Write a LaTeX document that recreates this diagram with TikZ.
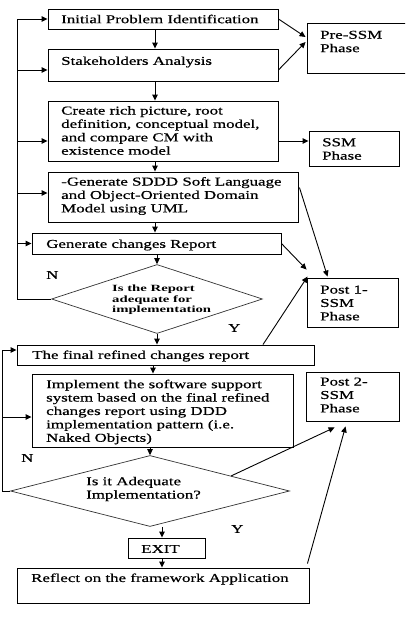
\documentclass[tikz,border=0pt]{standalone}
\usepackage{fontspec}
\setmainfont{Liberation Serif}[FakeStretch=1.41,FakeBold=0.6]
\newfontfamily\dfont{Liberation Serif}[FakeStretch=1.55]
\usetikzlibrary{shapes.geometric,arrows.meta,calc}
\begin{document}
\begin{tikzpicture}[x=1pt,y=-1pt,
  box/.style={draw, line width=0.9pt, rectangle, inner sep=0pt},
  dia/.style={draw=black!80, diamond, inner sep=0pt, line width=0.7pt, aspect=3},
  txt/.style={anchor=west, align=left, inner sep=0pt, font=\fontsize{12}{13.4}\selectfont},
  dtxt/.style={anchor=west, align=left, inner sep=0pt, font=\dfont\bfseries\fontsize{9.5}{10.5}\selectfont},
  arr/.style={line width=0.9pt, -{Triangle[length=6pt,width=5.5pt]}}]
\clip (0,0) rectangle (405,621);
\fill[white] (0,0) rectangle (405,621);
% boxes
\node[box, minimum width=230pt, minimum height=20pt] (b1) at (163,19) {};
\node[box, minimum width=230pt, minimum height=32pt] (b2) at (163,65) {};
\node[box, minimum width=230pt, minimum height=60pt] (b3) at (163,131) {};
\node[box, minimum width=250pt, minimum height=50pt] (b4) at (173,197) {};
\node[box, minimum width=249pt, minimum height=21pt] (b5) at (156.5,243.5) {};
\node[dia, minimum width=211pt, minimum height=69pt] (d1) at (157,299) {};
\node[box, minimum width=297pt, minimum height=20pt] (b6) at (165.5,355) {};
\node[box, minimum width=261pt, minimum height=73pt] (b7) at (162.5,410.5) {};
\node[dia, minimum width=279pt, minimum height=71pt] (d2) at (150,491) {};
\node[box, minimum width=77pt, minimum height=20pt] (ex) at (166.5,548) {};
\node[box, minimum width=292pt, minimum height=35pt] (rf) at (163,585.5) {};
\node[box, minimum width=103pt, minimum height=50pt] (pre) at (358.5,48) {};
\node[box, minimum width=90pt, minimum height=35pt] (ssm) at (354,148.5) {};
\node[box, minimum width=91pt, minimum height=49pt] (p1) at (352.5,302.5) {};
\node[box, minimum width=93pt, minimum height=49pt] (p2) at (352.5,396.5) {};
% texts
\node[txt] (t1) at (61,19) {Initial Problem Identification};
\node[txt] (t2) at (61,62) {Stakeholders Analysis};
\node[txt] (t3) at (61,130.5) {Create rich picture, root\\definition, conceptual model,\\and compare CM with\\existence model};
\node[txt] (t4) at (61,196) {-Generate SDDD Soft Language\\and Object-Oriented Domain\\Model using UML};
\node[txt] (t5) at (46,245) {Generate changes Report};
\node[dtxt] (td1) at (112,300) {Is the Report\\adequate for\\implementation};
\node[txt] (t6) at (32,356) {The final refined changes report};
\node[txt] (t7) at (46,412) {Implement the software support\\system based on the final refined\\changes report using DDD\\implementation pattern (i.e.\\Naked Objects)};
\node[txt] (td2) at (86,489) {Is it Adequate\\Implementation?};
\node[txt, anchor=center] (tex) at (160.5,549) {EXIT};
\node[txt] (trf) at (31,579) {Reflect on the framework Application};
\node[txt] (tpre) at (320,41.5) {Pre-SSM\\Phase};
\node[txt] (tssm) at (322,149) {SSM\\Phase};
\node[txt] (tp1) at (320,303) {Post 1-\\SSM\\Phase};
\node[txt] (tp2) at (320,395) {Post 2-\\SSM\\Phase};
\node[txt] (n1) at (46,275) {N};
\node[txt] (n2) at (21,458) {N};
\node[txt] (y1) at (228,328) {Y};
\node[txt] (y2) at (231,529) {Y};
% vertical flow
\coordinate (cA) at (155,0);
\coordinate (cB) at (153,0);
\coordinate (cC) at (162,0);
\coordinate (cD) at (263,0);
\draw[arr] (b1.south -| cA) -- (b2.north -| cA);
\draw[arr] (b2.south -| cA) -- (b3.north -| cA);
\draw[arr] (b3.south -| cA) -- (b4.north -| cA);
\draw[arr] (b4.south -| cA) -- (b5.north -| cA);
\draw[arr] (b5.south -| d1.north) -- (d1.north);
\draw[arr] (d1.south) -- (b6.north -| d1.south);
\draw[arr] (b6.south -| cB) -- (b7.north -| cB);
\draw[arr] (b7.south -| d2.north) -- (d2.north);
\draw[arr] (d2.south -| cC) -- (ex.north -| cC);
\draw[arr] (ex.south -| cC) -- (rf.north -| cC);
% loop 1
\coordinate (L1) at (17,0);
\draw[arr] (d1.west) -- (d1.west -| L1) |- (b1.west);
\coordinate (e2) at ($(b2.west)+(0,5)$);
\coordinate (e3) at ($(b3.west)+(0,10)$);
\coordinate (e4) at ($(b4.west)+(0,-4)$);
\draw[arr] (e2 -| L1) -- (e2);
\draw[arr] (e3 -| L1) -- (e3);
\draw[arr] (e4 -| L1) -- (e4);
\draw[arr] (b5.west -| L1) -- (b5.west);
% loop 2
\coordinate (L2) at (2,0);
\coordinate (e6) at ($(b6.west)+(0,-5)$);
\coordinate (e7) at ($(b7.west)+(0,6.5)$);
\draw[arr] (d2.west) -- (d2.west -| L2) |- (e6);
\draw[arr] (e7 -| L2) -- (e7);
% phase arrows
\draw[arr] (b1.east) -- ($(pre.west)+(-1,-11)$);
\draw[arr] ($(b2.east)+(0,5)$) -- ($(pre.west)+(-1,-6)$);
\coordinate (e3r) at ($(b3.east)+(0,10)$);
\draw[arr] (e3r) -- (e3r -| ssm.west);
\draw[arr] ($(b4.north east)+(1,16)$) -- ($(p1.north west)+(21,-1)$);
\draw[arr] (b5.east) -- ($(p1.north west)+(0,-8)$);
\draw[arr] (b6.north -| cD) -- ($(p1.north west)+(1,-1)$);
\draw[arr] ($(d2.north)!0.58!(d2.east)$) -- ($(p2.south west)+(29,6)$);
\draw[arr] ($(rf.north east)+(-2,-4)$) -- ($(p2.south west)+(40,5)$);
\end{tikzpicture}
\end{document}
